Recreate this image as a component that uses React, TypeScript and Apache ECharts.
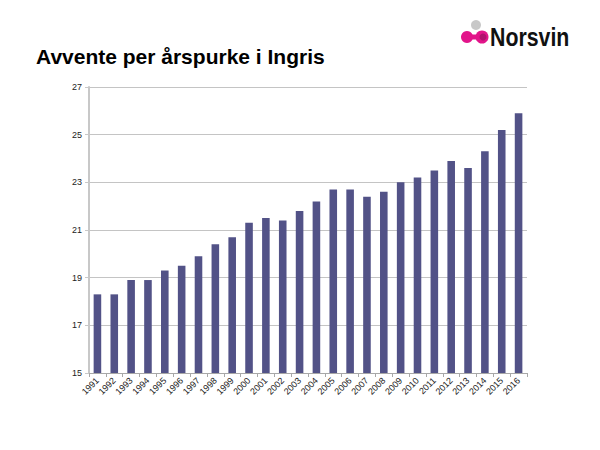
import React, { useEffect, useRef } from "react";
import * as echarts from "echarts";

const years = ["1991","1992","1993","1994","1995","1996","1997","1998","1999","2000","2001","2002","2003","2004","2005","2006","2007","2008","2009","2010","2011","2012","2013","2014","2015","2016"];
const values = [18.3,18.3,18.9,18.9,19.3,19.5,19.9,20.4,20.7,21.3,21.5,21.4,21.8,22.2,22.7,22.7,22.4,22.6,23.0,23.2,23.5,23.9,23.6,24.3,25.2,25.9];
const titleText = "Avvente per årspurke i Ingris";
const logoText = "Norsvin";

export default function App() {
  const ref = useRef<HTMLDivElement>(null);
  useEffect(() => {
    document.body.style.margin = "0";
    const chart = echarts.init(ref.current!, null, { renderer: "svg" });
    chart.setOption({
      animation: false,
      backgroundColor: "#ffffff",
      textStyle: { fontFamily: "Liberation Sans, Arial, sans-serif" },
      grid: { left: 89, right: 73, top: 87, bottom: 77 },
      xAxis: {
        type: "category",
        data: years,
        boundaryGap: true,
        axisLine: { lineStyle: { color: "#a8a8a8", width: 1 } },
        axisTick: { show: true, alignWithLabel: false, length: 4, lineStyle: { color: "#a8a8a8" } },
        axisLabel: { rotate: 45, fontSize: 9, color: "#222", interval: 0, margin: 6 },
      },
      yAxis: {
        type: "value",
        min: 15,
        max: 27,
        interval: 2,
        axisLine: { show: true, lineStyle: { color: "#c8c8c8", width: 2 } },
        axisTick: { show: true, length: 4, lineStyle: { color: "#c8c8c8" } },
        axisLabel: { fontSize: 9, color: "#222", margin: 7 },
        splitLine: { lineStyle: { color: "#c4c4c4", width: 1 } },
      },
      series: [
        {
          type: "bar",
          data: values,
          barWidth: "45%",
          itemStyle: { color: "#525287" },
        },
      ],
      graphic: [
        {
          type: "text",
          x: 36,
          y: 46,
          style: { text: titleText, font: "bold 21px 'Liberation Sans', Arial, sans-serif", fill: "#000" },
        },
        { type: "circle", shape: { cx: 476, cy: 25, r: 5 }, style: { fill: "#c8c8c8" } },
        { type: "circle", shape: { cx: 467, cy: 37, r: 6 }, style: { fill: "#e2148a" } },
        { type: "circle", shape: { cx: 482, cy: 37, r: 6.5 }, style: { fill: "#e2148a" } },
        { type: "rect", shape: { x: 467, y: 34.5, width: 15, height: 5 }, style: { fill: "#e2148a" } },
        { type: "circle", shape: { cx: 483, cy: 37, r: 3.5 }, style: { fill: "#b0106e" } },
        {
          type: "text",
          x: 490,
          y: 24,
          scaleX: 0.82,
          style: { text: logoText, font: "bold 26px 'Liberation Sans', Arial, sans-serif", fill: "#111" },
        },
      ],
    });
    return () => chart.dispose();
  }, []);
  return <div ref={ref} style={{ width: 600, height: 450 }} />;
}
